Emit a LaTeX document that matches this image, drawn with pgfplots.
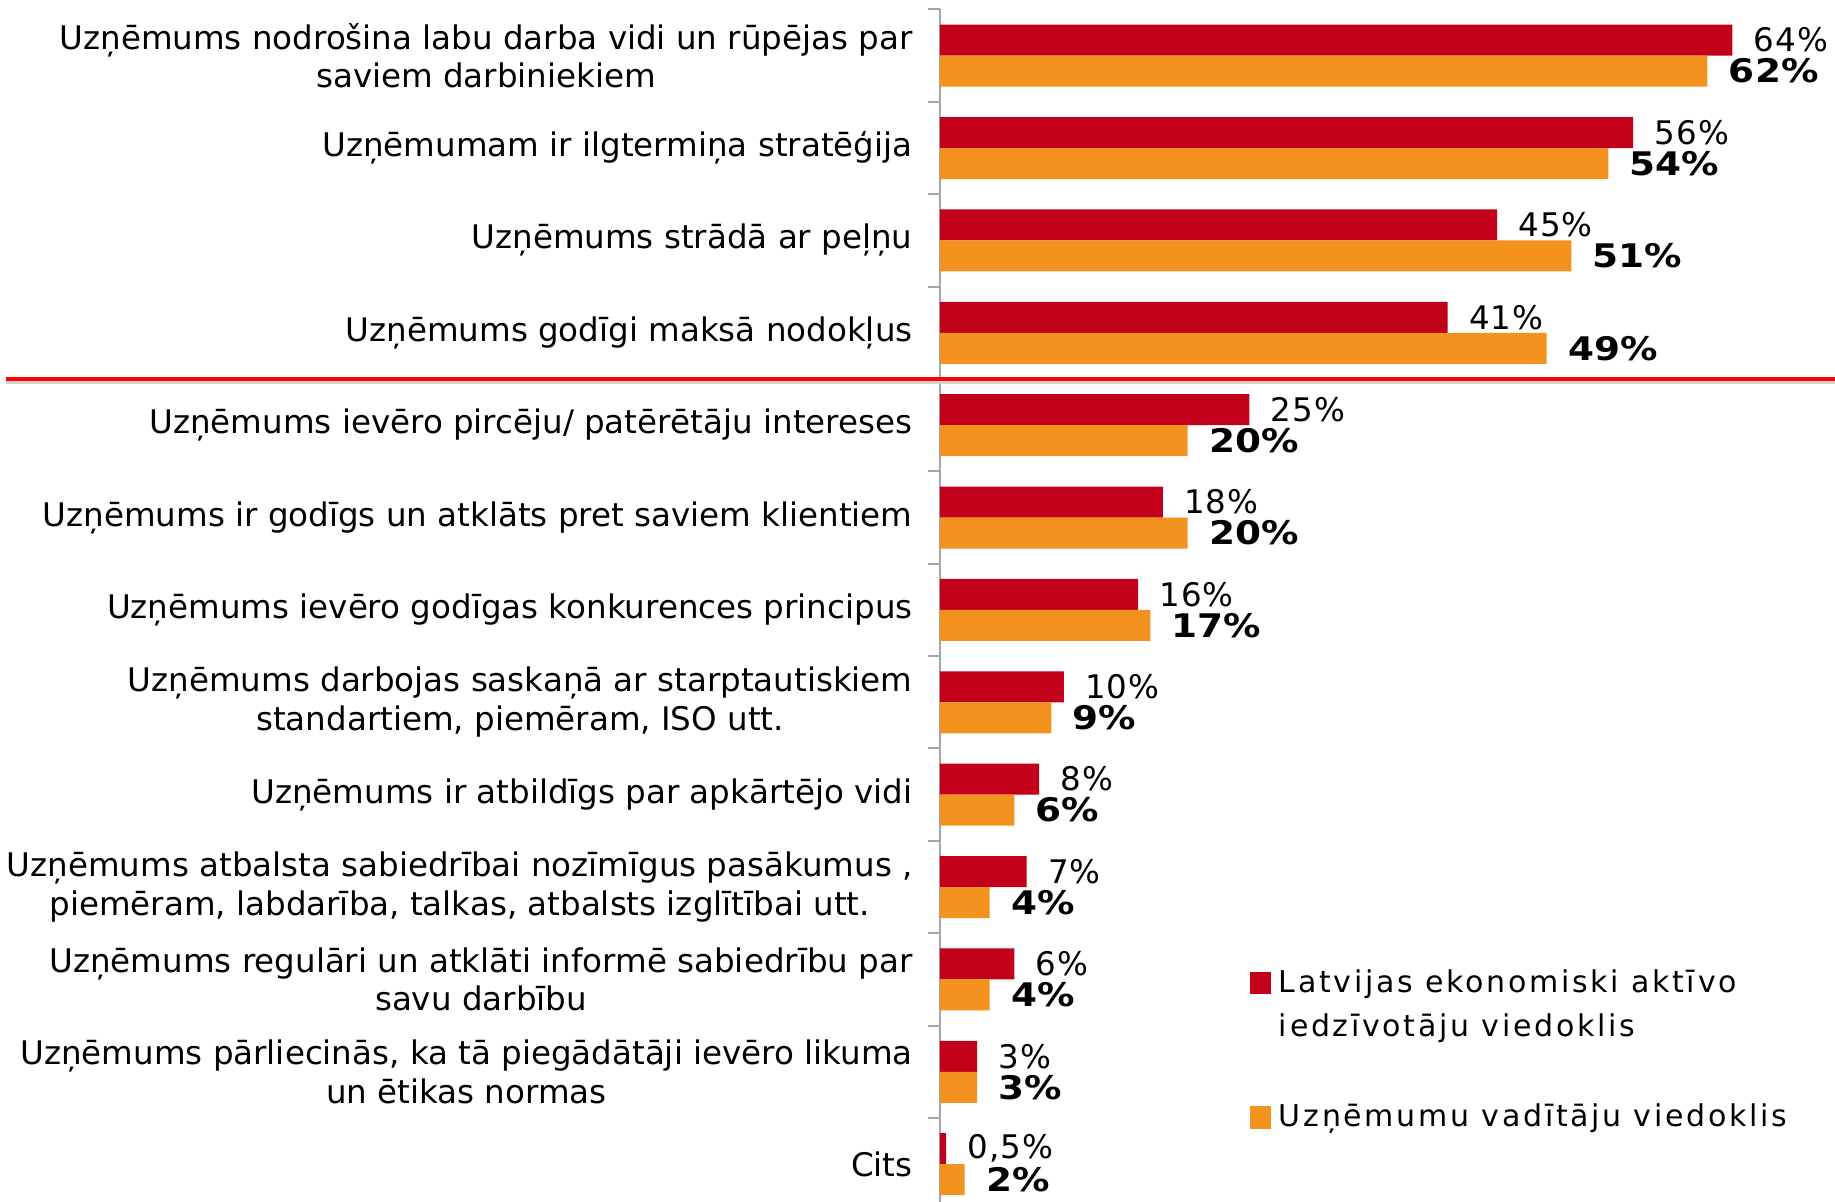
\documentclass[border=0pt]{standalone}
\usepackage{fontspec}
\setmainfont{DejaVu Sans}
\newfontfamily\valfont[LetterSpace=3]{DejaVu Sans}
\newfontfamily\valbold[FakeStretch=1.15]{DejaVu Sans}
\newfontfamily\legfont[LetterSpace=9]{DejaVu Sans}
\usepackage{pgfplots}
\pgfplotsset{compat=1.18}
\definecolor{cred}{HTML}{C3001A}
\definecolor{corange}{HTML}{F4921F}

\begin{document}
\begin{tikzpicture}
\begin{axis}[
  scale only axis,
  width=358pt, height=477.2pt,
  xbar, bar width=12.4pt,
  xmin=0, xmax=72.3,
  ymin=-0.505, ymax=12.41,
  y dir=reverse,
  axis x line=none,
  axis y line*=left,
  y axis line style={-, draw=gray!70, line width=0.8pt},
  ytick={0,...,12},
  yticklabels={
    {Uzņēmums nodrošina labu darba vidi un rūpējas par\\saviem darbiniekiem},
    {Uzņēmumam ir ilgtermiņa stratēģija},
    {Uzņēmums strādā ar peļņu},
    {Uzņēmums godīgi maksā nodokļus},
    {Uzņēmums ievēro pircēju/ patērētāju intereses},
    {Uzņēmums ir godīgs un atklāts pret saviem klientiem},
    {Uzņēmums ievēro godīgas konkurences principus},
    {Uzņēmums darbojas saskaņā ar starptautiskiem\\standartiem, piemēram, ISO utt.},
    {Uzņēmums ir atbildīgs par apkārtējo vidi},
    {Uzņēmums atbalsta sabiedrībai nozīmīgus pasākumus ,\\piemēram, labdarība, talkas, atbalsts izglītībai utt.},
    {Uzņēmums regulāri un atklāti informē sabiedrību par\\savu darbību},
    {Uzņēmums pārliecinās, ka tā piegādātāji ievēro likuma\\un ētikas normas},
    {Cits}},
  minor ytick={-0.5,0.5,...,11.5},
  major tick length=0pt,
  minor tick length=4.8pt,
  tick align=outside,
  tick style={gray!70, line width=0.8pt},
  yticklabel style={font=\fontsize{13}{15.4}\selectfont, align=center,
    inner sep=0pt, xshift=-10.8pt},
  clip=false,
  nodes near coords,
  point meta=explicit symbolic,
  nodes near coords style={anchor=west, inner sep=0pt, xshift=8.4pt,
    font=\valfont\fontsize{13}{15}\selectfont, text=black},
  legend style={at={(axis cs:25,9.74)}, anchor=north west, draw=none, fill=none,
    font=\legfont\fontsize{12}{17.8}\selectfont, cells={anchor=base west, inner sep=0pt},
    inner sep=0pt,
    /tikz/every odd column/.append style={column sep=1pt}},
  legend image code/.code={\fill[#1] (0pt,-0.8pt) rectangle (8.6pt,8.2pt);},
]
\addplot[fill=cred, draw=none, bar shift=6.2pt] coordinates {
  (64,0) [64\%] (56,1) [56\%] (45,2) [45\%] (41,3) [41\%]
  (25,4) [25\%] (18,5) [18\%] (16,6) [16\%] (10,7) [10\%]
  (8,8) [8\%] (7,9) [7\%] (6,10) [6\%] (3,11) [3\%] (0.5,12) [{0,5\%}]
};
\addlegendimage{empty legend}
\addlegendimage{empty legend}
\addplot[fill=corange, draw=none, bar shift=-6.2pt,
  every node near coord/.append style={font=\valbold\bfseries\fontsize{13}{15}\selectfont}] coordinates {
  (62,0) [62\%] (54,1) [54\%] (51,2) [51\%] (49,3) [49\%]
  (20,4) [20\%] (20,5) [20\%] (17,6) [17\%] (9,7) [9\%]
  (6,8) [6\%] (4,9) [4\%] (4,10) [4\%] (3,11) [3\%] (2,12) [2\%]
};
\legend{\strut Latvijas ekonomiski aktīvo, \strut iedzīvotāju viedoklis, \strut, \strut Uzņēmumu vadītāju viedoklis}
\draw[gray!35, line width=1.2pt] (axis cs:0,3.5) ++(-373.6pt,-1.6pt) -- ++(731.6pt,0pt);
\draw[red, line width=1.8pt] (axis cs:0,3.5) ++(-373.6pt,0pt) -- ++(731.6pt,0pt);
\end{axis}
\pgfresetboundingbox
\path (-376pt,0pt) rectangle (358pt,480.8pt);
\end{tikzpicture}
\end{document}
